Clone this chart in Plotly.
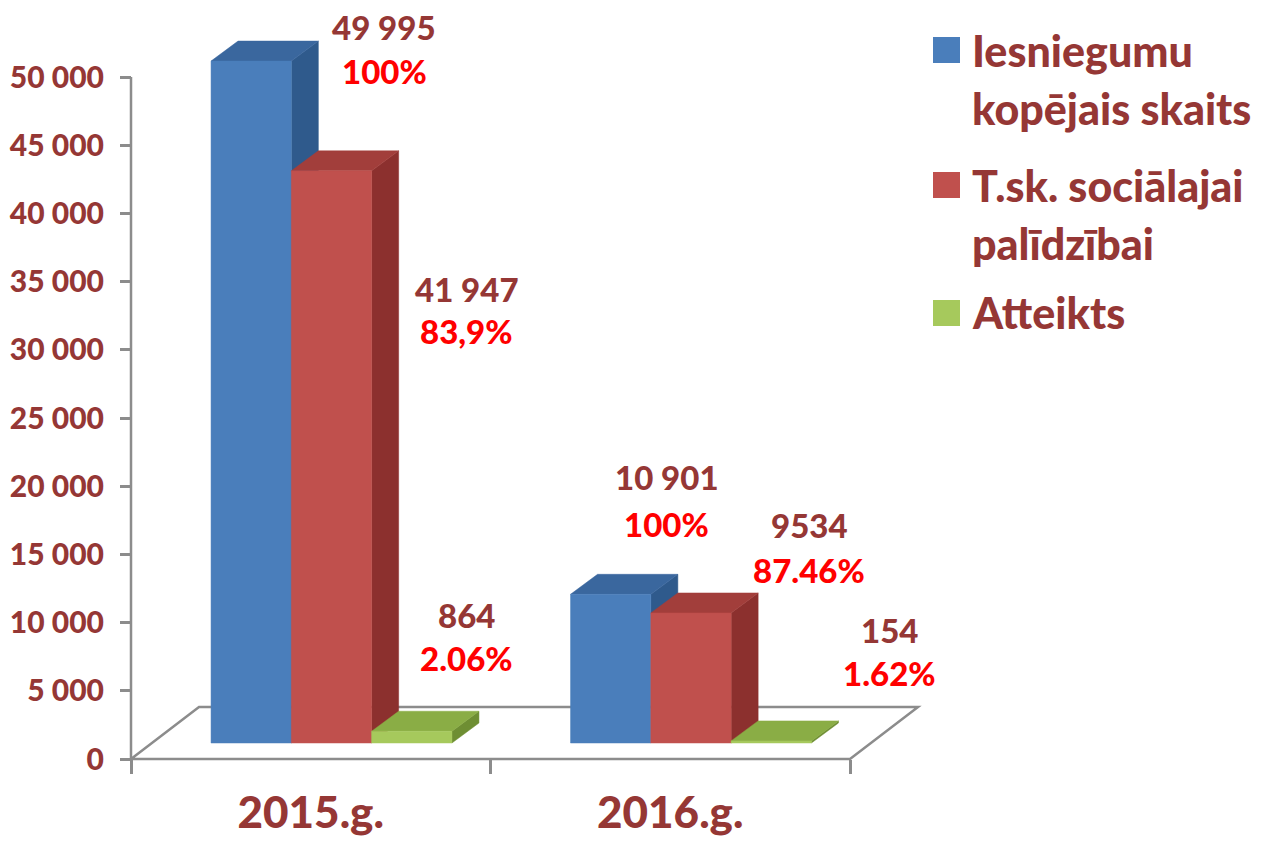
# Iesniegumi 2015.-2016.g. - 3D stabiņu diagramma (Excel stilā)

import plotly.graph_objects as go

years = ['2015.g.', '2016.g.']
series_names = ['Iesniegumu kopējais skaits', 'T.sk. sociālajai palīdzībai', 'Atteikts']
total = [49995, 10901]
social = [41947, 9534]
refused = [864, 154]
values = [total, social, refused]
value_text = [['49 995', '10 901'], ['41 947', '9534'], ['864', '154']]
pct_text = [['100%', '100%'], ['83,9%', '87.46%'], ['2.06%', '1.62%']]
y_ticks = list(range(0, 50001, 5000))

# --- geometry (pixels of the browser window; page body has an 8px margin) ---
PAD = 8
W, H = 1266 - PAD, 842 - PAD
def px(x): return x - PAD
def py(y): return y - PAD

S = (759 - 77) / 50000.0          # px per unit on value axis
U = (850 - 131) / 2.0             # px per category
x_lo = -0.5 - px(131) / U
x_hi = x_lo + W / U
bar_w = 80.3 / U
front_shift = 20.75 / U
depth_dx, depth_dy = 27 / U, 20 / S
floor_dx, floor_dy = 68 / U, 52 / S

face_colors = [
    # front, top, side
    ('#4A7EBB', '#3A679E', '#2F5A8C'),
    ('#C0504D', '#A23E3B', '#8C302E'),
    ('#A6C95C', '#8AAD45', '#6E8E33'),
]
label_red = '#953735'
axis_grey = '#8C8C8C'
font_fam = 'Lato'
wt = 900

# label offsets from the bar front top (px): [series][year] -> (dx, dy value, dy pct)
label_off = [
    [(133, 34, -10), (56, 117, 70)],
    [(135, -118, -160), (118, 88, 43)],
    [(55, 116, 73), (118, 111, 68)],
]

fig = go.Figure()

for k, vals in enumerate(values):
    fronts, tops, sides = ([], []), ([], []), ([], [])
    for g, v in enumerate(vals):
        x0 = g + front_shift - 1.5 * bar_w + k * bar_w
        x1 = x0 + bar_w
        fronts[0].extend([x0, x1, x1, x0, x0, None])
        fronts[1].extend([0, 0, v, v, 0, None])
        tops[0].extend([x0, x1, x1 + depth_dx, x0 + depth_dx, x0, None])
        tops[1].extend([v, v, v + depth_dy, v + depth_dy, v, None])
        sides[0].extend([x1, x1 + depth_dx, x1 + depth_dx, x1, x1, None])
        sides[1].extend([0, depth_dy, v + depth_dy, v, 0, None])
    for (xs, ys), col in zip([sides, tops, fronts], [face_colors[k][2], face_colors[k][1], face_colors[k][0]]):
        fig.add_trace(go.Scatter(
            x=xs, y=ys, xaxis='x', yaxis='y2',
            mode='lines', fill='toself', fillcolor=col,
            line=dict(color=col, width=0.5),
            hoverinfo='skip', showlegend=False))

# data labels
for k, vals in enumerate(values):
    for g, v in enumerate(vals):
        xc = g + front_shift - 1.5 * bar_w + (k + 0.5) * bar_w
        dx, dyv, dyp = label_off[k][g]
        fig.add_annotation(x=xc, y=v, xref='x', yref='y2', text=value_text[k][g],
                           showarrow=False, xshift=dx, yshift=dyv,
                           font=dict(family=font_fam, size=33, color=label_red, weight=wt))
        fig.add_annotation(x=xc, y=v, xref='x', yref='y2', text=pct_text[k][g],
                           showarrow=False, xshift=dx, yshift=dyp,
                           font=dict(family=font_fam, size=33, color='#FF0000', weight=wt))

# floor and value axis line
fig.add_shape(type='path', xref='x', yref='y', layer='below',
              path=(f'M {-0.5},0 L {-0.5 + floor_dx},{floor_dy} '
                    f'L {1.5 + floor_dx},{floor_dy} L 1.5,0 Z'),
              line=dict(color=axis_grey, width=2.5), fillcolor='white')
fig.add_shape(type='line', xref='x', yref='y', layer='below',
              x0=-0.5, x1=-0.5, y0=0, y1=50000,
              line=dict(color=axis_grey, width=2.5))

# legend (drawn by hand: big squares)
legend_lines = [
    (0, 'Iesniegumu', 50), (None, 'kopējais skaits', 108),
    (1, 'T.sk. sociālajai', 185), (None, 'palīdzībai', 243),
    (2, 'Atteikts', 313),
]
for k, txt, yc in legend_lines:
    fig.add_annotation(x=px(970) / W, y=1 - py(yc) / H, xref='paper', yref='paper',
                       text=txt, showarrow=False, xanchor='left', yanchor='middle',
                       font=dict(family=font_fam, size=43, color=label_red, weight=wt))
    if k is not None:
        fig.add_shape(type='rect', xref='paper', yref='paper',
                      x0=px(933) / W, x1=px(960) / W,
                      y0=1 - py(yc + 13) / H, y1=1 - py(yc - 13) / H,
                      line=dict(width=0), fillcolor=face_colors[k][0])

fig.update_layout(
    width=W, height=H,
    margin=dict(l=0, r=0, t=0, b=0, autoexpand=False),
    paper_bgcolor='white', plot_bgcolor='white',
    showlegend=False,
    separators=', ',
    xaxis=dict(domain=[0, 1], range=[x_lo, x_hi], anchor='free', position=(H - py(759)) / H,
               tickvals=[0, 1], ticktext=years, ticks='',
               ticklabelstandoff=24, automargin=False,
               tickfont=dict(family=font_fam, size=44, color=label_red, weight=wt),
               minor=dict(tickvals=[-0.5, 0.5, 1.5], ticks='outside', ticklen=14,
                          tickwidth=2.5, tickcolor=axis_grey),
               showline=False, showgrid=False, zeroline=False, fixedrange=True),
    yaxis=dict(domain=[0, 1], range=[-(H - py(759)) / S, py(759) / S],
               anchor='free', position=px(131) / W,
               tickvals=y_ticks, tickformat=',d', automargin=False,
               ticks='outside', ticklen=11, tickwidth=2.5, tickcolor=axis_grey,
               ticklabelstandoff=10,
               tickfont=dict(family=font_fam, size=30, color=label_red, weight=wt),
               showline=False, showgrid=False, zeroline=False, fixedrange=True),
    yaxis2=dict(overlaying='y', range=[-(H - py(743)) / S, py(743) / S],
                showticklabels=False, showgrid=False, zeroline=False, showline=False),
)

fig.write_html('out.html')
